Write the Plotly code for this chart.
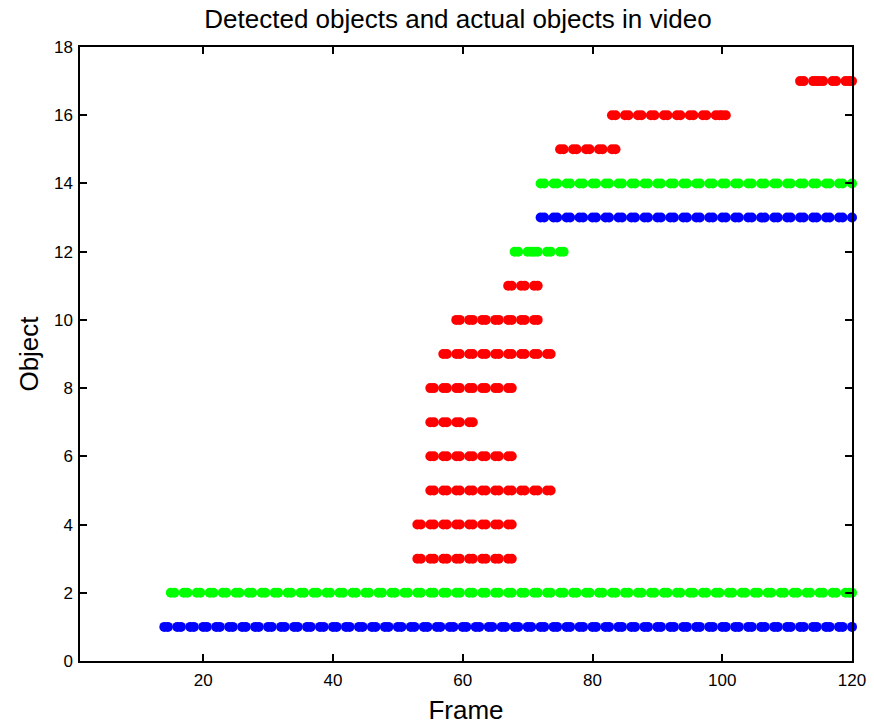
import plotly.graph_objects as go

# Frames in which each object appears, grouped by object id (row on the y axis)
obj01_frames = [14, 16, 18, 20, 22, 24, 26, 28, 30, 32, 34, 36, 38, 40, 42, 44, 46, 48,
                50, 52, 54, 56, 58, 60, 62, 64, 66, 68, 70, 72, 74, 76, 78, 80, 82, 84,
                86, 88, 90, 92, 94, 96, 98, 100, 102, 104, 106, 108, 110, 112, 114, 116,
                118, 120]
obj02_frames = [15, 17, 19, 21, 23, 25, 27, 29, 31, 33, 35, 37, 39, 41, 43, 45, 47, 49,
                51, 53, 55, 57, 59, 61, 63, 65, 67, 69, 71, 73, 75, 77, 79, 81, 83, 85,
                87, 89, 91, 93, 95, 97, 99, 101, 103, 105, 107, 109, 111, 113, 115, 117,
                119, 120]
obj03_frames = [53, 55, 57, 59, 61, 63, 65, 67]
obj04_frames = [53, 55, 57, 59, 61, 63, 65, 67]
obj05_frames = [55, 57, 59, 61, 63, 65, 67, 69, 71, 73]
obj06_frames = [55, 57, 59, 61, 63, 65, 67]
obj07_frames = [55, 57, 59, 61]
obj08_frames = [55, 57, 59, 61, 63, 65, 67]
obj09_frames = [57, 59, 61, 63, 65, 67, 69, 71, 73]
obj10_frames = [59, 61, 63, 65, 67, 69, 71]
obj11_frames = [67, 69, 71]
obj12_frames = [68, 70, 71, 73, 75]
obj13_frames = [72, 74, 76, 78, 80, 82, 84, 86, 88, 90, 92, 94, 96, 98, 100, 102, 104,
                106, 108, 110, 112, 114, 116, 118, 120]
obj14_frames = [72, 74, 76, 78, 80, 82, 84, 86, 88, 90, 92, 94, 96, 98, 100, 102, 104,
                106, 108, 110, 112, 114, 116, 118, 120]
obj15_frames = [75, 77, 79, 81, 83]
obj16_frames = [83, 85, 87, 89, 91, 93, 95, 97, 99, 100]
obj17_frames = [112, 114, 115, 117, 119, 120]

# Which object ids belong to each colour group
blue_objects = [1, 13]
green_objects = [2, 12, 14]
red_objects = [3, 4, 5, 6, 7, 8, 9, 10, 11, 15, 16, 17]

x_ticks = [20, 40, 60, 80, 100, 120]
y_ticks = [0, 2, 4, 6, 8, 10, 12, 14, 16, 18]

frames_by_object = {
    1: obj01_frames, 2: obj02_frames, 3: obj03_frames, 4: obj04_frames,
    5: obj05_frames, 6: obj06_frames, 7: obj07_frames, 8: obj08_frames,
    9: obj09_frames, 10: obj10_frames, 11: obj11_frames, 12: obj12_frames,
    13: obj13_frames, 14: obj14_frames, 15: obj15_frames, 16: obj16_frames,
    17: obj17_frames,
}


def points(object_ids):
    xs, ys = [], []
    for oid in object_ids:
        fr = frames_by_object[oid]
        xs.extend(fr)
        ys.extend([oid] * len(fr))
    return xs, ys


FONT = "Liberation Sans, Arial, Helvetica, sans-serif"
X_RANGE = [1, 120]
# Each dot is drawn as a short horizontal pill: the same round markers are
# drawn a second time on a hidden copy of the frame axis, nudged slightly.
PILL_SHIFT = 0.55

fig = go.Figure()
for ids, color in [(blue_objects, "#0000FF"), (green_objects, "#00FF00"),
                   (red_objects, "#FF0000")]:
    xs, ys = points(ids)
    for axis in ("x", "x2"):
        fig.add_trace(go.Scatter(
            x=xs, y=ys, mode="markers", xaxis=axis, yaxis="y",
            marker=dict(size=10, color=color, line=dict(width=0)),
            cliponaxis=False, showlegend=False, hoverinfo="x+y",
        ))

axis_common = dict(
    showgrid=False, zeroline=False, showline=True, linecolor="#000000",
    linewidth=1.5, mirror="ticks", ticks="inside", ticklen=7, tickwidth=1.5,
    tickcolor="#000000", tickfont=dict(family=FONT, size=17, color="#000000"),
    automargin=False,
)

fig.update_layout(
    xaxis=dict(
        range=X_RANGE, tickmode="array", tickvals=x_ticks,
        title=dict(text="Frame", font=dict(family=FONT, size=26, color="#000000"),
                   standoff=14),
        ticklabelstandoff=3,
        **axis_common,
    ),
    xaxis2=dict(range=[X_RANGE[0] - PILL_SHIFT, X_RANGE[1] - PILL_SHIFT],
                overlaying="x", anchor="y", visible=False),
    yaxis=dict(
        range=[0, 18], tickmode="array", tickvals=y_ticks,
        title=dict(text="Object", font=dict(family=FONT, size=26, color="#000000"),
                   standoff=8),
        ticklabelstandoff=2,
        **axis_common,
    ),
)

fig.update_layout(
    width=874, height=725,
    margin=dict(l=80, r=22, t=47, b=64, autoexpand=False),
    paper_bgcolor="#FFFFFF", plot_bgcolor="#FFFFFF",
    title=dict(text="Detected objects and actual objects in video",
               font=dict(family=FONT, size=26, color="#000000"),
               x=0.4896, xanchor="center", xref="paper",
               y=1 - 19 / 725, yanchor="middle", yref="container"),
)

fig.write_html("out.html")
